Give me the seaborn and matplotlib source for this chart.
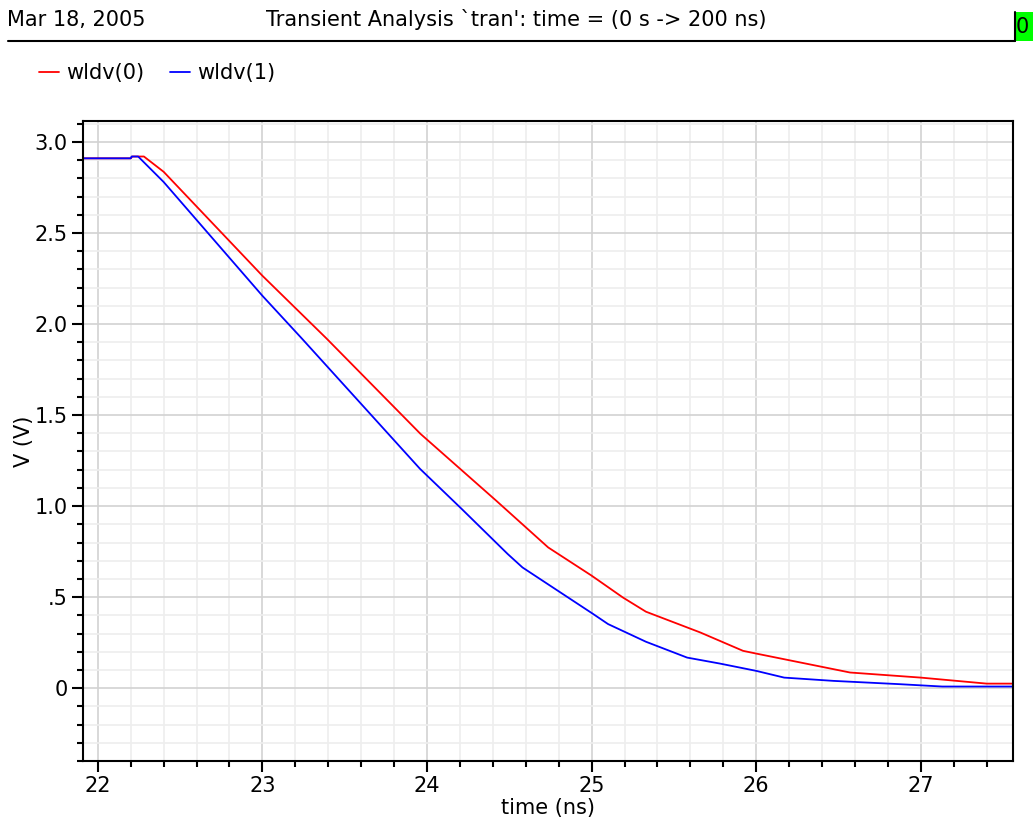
import matplotlib
matplotlib.use("Agg")
import matplotlib.pyplot as plt
from matplotlib.ticker import FixedLocator, MultipleLocator
from matplotlib.patches import Rectangle
from matplotlib.lines import Line2D
import seaborn as sns
import pandas as pd

# Transient waveforms (time in ns, voltage in V)
time_wldv0 = [21.91, 22.20, 22.21, 22.28, 22.40, 23.00, 23.39, 23.96, 24.42, 24.736,
              25.00, 25.19, 25.33, 25.66, 25.92, 26.00, 26.57, 27.00, 27.40, 27.56]
volt_wldv0 = [2.91, 2.91, 2.92, 2.92, 2.836, 2.265, 1.92, 1.397, 1.03, 0.773,
              0.618, 0.498, 0.42, 0.306, 0.205, 0.19, 0.086, 0.058, 0.025, 0.025]

time_wldv1 = [21.91, 22.20, 22.205, 22.245, 22.40, 23.00, 23.24, 23.957, 24.21, 24.49,
              24.58, 25.01, 25.10, 25.33, 25.58, 25.78, 26.00, 26.17, 26.47, 26.87,
              27.13, 27.56]
volt_wldv1 = [2.91, 2.91, 2.92, 2.92, 2.78, 2.155, 1.92, 1.205, 0.985, 0.737,
              0.663, 0.407, 0.352, 0.255, 0.168, 0.135, 0.095, 0.058, 0.04, 0.022,
              0.009, 0.009]

signal_names = ["wldv(0)", "wldv(1)"]
signal_colors = ["#ff0000", "#0000ff"]

ytick_values = [0.0, 0.5, 1.0, 1.5, 2.0, 2.5, 3.0]
ytick_labels = ["0", ".5", "1.0", "1.5", "2.0", "2.5", "3.0"]
xtick_values = [22, 23, 24, 25, 26, 27]
xtick_labels = ["22", "23", "24", "25", "26", "27"]

header_date = "Mar 18, 2005"
header_title = "Transient Analysis `tran': time = (0 s -> 200 ns)"

df = pd.concat([
    pd.DataFrame({"time": time_wldv0, "V": volt_wldv0, "signal": signal_names[0]}),
    pd.DataFrame({"time": time_wldv1, "V": volt_wldv1, "signal": signal_names[1]}),
], ignore_index=True)

sns.set_theme(style="white")
plt.rcParams["font.family"] = ["DejaVu Sans"]
plt.rcParams["text.color"] = "black"
plt.rcParams["axes.labelcolor"] = "black"
FS = 15

W, H = 1035, 823
fig = plt.figure(figsize=(W / 100, H / 100), dpi=100)
fig.patch.set_facecolor("white")
ax = fig.add_axes([83 / W, 1 - 761 / H, (1013 - 83) / W, (761 - 121) / H])

sns.lineplot(data=df, x="time", y="V", hue="signal", palette=signal_colors,
             hue_order=signal_names, sort=False, estimator=None,
             linewidth=1.3, ax=ax, legend=True)

ax.set_xlim(21.91, 27.56)
ax.set_ylim(-0.4, 3.115)

ax.xaxis.set_major_locator(FixedLocator(xtick_values))
ax.set_xticklabels(xtick_labels)
ax.xaxis.set_minor_locator(MultipleLocator(0.2))
ax.yaxis.set_major_locator(FixedLocator(ytick_values))
ax.set_yticklabels(ytick_labels)
ax.yaxis.set_minor_locator(MultipleLocator(0.1))

ax.grid(which="minor", color="#eeeeee", linewidth=1.2, zorder=0)
ax.grid(which="major", color="#d2d2d2", linewidth=1.2, zorder=0)
ax.set_axisbelow(True)

for s in ax.spines.values():
    s.set_color("black")
    s.set_linewidth(1.5)

ax.tick_params(which="major", direction="out", length=8, width=1.5, color="black",
               labelsize=FS, labelcolor="black", pad=3, left=True, bottom=True)
ax.tick_params(which="minor", direction="out", length=4, width=1.5, color="black",
               left=True, bottom=True)

ax.set_xlabel("time (ns)", fontsize=FS)
ax.set_ylabel("V (V)", fontsize=FS)
ax.xaxis.set_label_coords(0.5, -0.073, transform=ax.transAxes)
ax.xaxis.label.set_va("center")
ax.yaxis.set_label_coords(-0.063, 0.5, transform=ax.transAxes)
ax.yaxis.label.set_va("center")

# Legend across the top
handles, labels = ax.get_legend_handles_labels()
ax.get_legend().remove()
fig.legend(handles, labels, loc="center left", bbox_to_anchor=(39 / W, 1 - 73 / H),
           ncol=2, frameon=False, fontsize=FS, handlelength=0.95, handletextpad=0.35,
           columnspacing=1.25, borderpad=0, borderaxespad=0, labelcolor="black")

# Header: date, analysis title and rule
fig.text(7 / W, 1 - 20 / H, header_date, fontsize=FS, ha="left", va="center")
fig.text(516 / W, 1 - 20 / H, header_title, fontsize=FS, ha="center", va="center")
fig.add_artist(Line2D([8 / W, 1015 / W], [1 - 40.7 / H, 1 - 40.7 / H],
                      color="black", linewidth=1.5, transform=fig.transFigure))
fig.add_artist(Rectangle((1015 / W, 1 - 40.7 / H), 18 / W, 29 / H,
                         facecolor="#00ff00", edgecolor="none", transform=fig.transFigure))
fig.add_artist(Line2D([1015 / W, 1015 / W], [1 - 40.7 / H, 1 - 11.7 / H],
                      color="black", linewidth=1.5, transform=fig.transFigure))
fig.text(1016 / W, 1 - 27 / H, "0", fontsize=FS, ha="left", va="center")

fig.savefig("out.png", dpi=100, facecolor="white")
